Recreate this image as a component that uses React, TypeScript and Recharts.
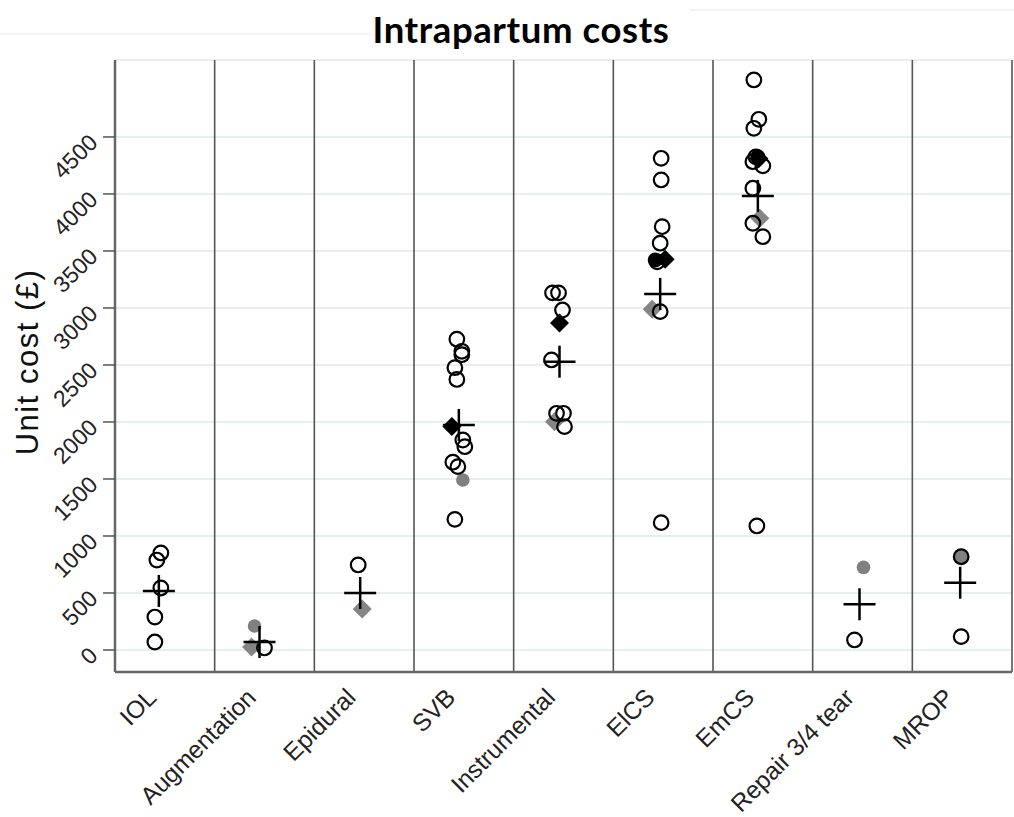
import React from 'react';
import { ScatterChart, Scatter, XAxis, YAxis, CartesianGrid, ReferenceLine } from 'recharts';

// categories (one column each, x = column index + position inside it)
const categories = ['IOL', 'Augmentation', 'Epidural', 'SVB', 'Instrumental', 'ElCS', 'EmCS', 'Repair 3/4 tear', 'MROP'];
const categoryTicks = [0.5, 1.5, 2.5, 3.5, 4.5, 5.5, 6.5, 7.5, 8.5];
const separators = [1, 2, 3, 4, 5, 6, 7, 8, 9];
const yTicks = [0, 500, 1000, 1500, 2000, 2500, 3000, 3500, 4000, 4500];

// [x, unit cost]
const openCircles: [number, number][] = [
  [0.46, 851], [0.42, 789], [0.46, 544], [0.4, 289], [0.4, 70],
  [1.5, 18],
  [2.44, 746],
  [3.43, 2726], [3.48, 2620], [3.48, 2590], [3.41, 2476], [3.43, 2373], [3.49, 1842], [3.51, 1783], [3.39, 1647], [3.44, 1608], [3.41, 1146],
  [4.39, 3132], [4.45, 3132], [4.49, 2982], [4.38, 2544], [4.43, 2076], [4.5, 2076], [4.51, 1959],
  [5.48, 4313], [5.48, 4123], [5.49, 3713], [5.47, 3568], [5.44, 3404], [5.47, 2968], [5.48, 1117],
  [6.41, 5000], [6.46, 4655], [6.41, 4576], [6.43, 4325], [6.4, 4283], [6.5, 4246], [6.4, 4050], [6.4, 3743], [6.5, 3625], [6.44, 1088],
  [7.42, 88],
  [8.49, 818], [8.49, 117],
];
const grayCircles: [number, number][] = [[1.4, 211], [3.49, 1491], [7.51, 725], [8.49, 818]];
const grayDiamonds: [number, number][] = [[1.37, 26], [2.48, 360], [4.41, 2003], [5.39, 2989], [6.47, 3787]];
const blackDiamonds: [number, number][] = [[3.38, 1960], [4.46, 2868], [5.52, 3427], [6.46, 4310]];
const blackCircles: [number, number][] = [[5.42, 3421], [6.45, 4327]];
const means: [number, number][] = [
  [0.44, 518], [1.45, 70], [2.46, 500], [3.45, 1974], [4.46, 2529], [5.47, 3123], [6.45, 3983], [7.47, 401], [8.48, 590],
];

const toRows = (pts: [number, number][]) => pts.map(([x, y]) => ({ x, y }));

const OpenCircle = ({ cx, cy }: any) => (
  <circle cx={cx} cy={cy} r={7.3} fill="none" stroke="#000" strokeWidth={2.2} />
);
const GrayCircle = ({ cx, cy }: any) => <circle cx={cx} cy={cy} r={6.8} fill="#808080" />;
const Diamond = (color: string) => ({ cx, cy }: any) => (
  <polygon points={`${cx},${cy - 9.5} ${cx + 9.5},${cy} ${cx},${cy + 9.5} ${cx - 9.5},${cy}`} fill={color} />
);
const BlackCircle = ({ cx, cy }: any) => <circle cx={cx} cy={cy} r={7.5} fill="#000" />;
const Cross = ({ cx, cy }: any) => (
  <g stroke="#000" strokeWidth={2.5}>
    <line x1={cx - 16} y1={cy} x2={cx + 16} y2={cy} />
    <line x1={cx} y1={cy - 16} x2={cx} y2={cy + 16} />
  </g>
);

const YTick = ({ x, y, payload }: any) => (
  <g transform={`translate(${x},${y + 7}) rotate(-45)`}>
    <text textAnchor="end" fontSize={23} fontFamily="Liberation Sans, Arial, sans-serif" fill="#222">
      {payload.value}
    </text>
  </g>
);

const XTick = ({ x, y, payload }: any) => (
  <g transform={`translate(${x - 7},${y + 27}) rotate(-45)`}>
    <text textAnchor="end" fontSize={24.5} fontFamily="Liberation Sans, Arial, sans-serif" fill="#222">
      {categories[Math.floor(payload.value)]}
    </text>
  </g>
);

export default function App() {
  return (
    <div style={{ position: 'absolute', left: 0, top: 0, width: 1014, height: 817, background: '#fff' }}>
      <div style={{ position: 'absolute', left: 0, top: 33, width: 370, height: 2, background: '#f0f4f4' }} />
      <div style={{ position: 'absolute', left: 690, top: 9, width: 324, height: 2, background: '#f0f4f4' }} />
      <div
        style={{
          position: 'absolute', left: 271, top: 7, width: 500, textAlign: 'center',
          fontFamily: 'Lato, sans-serif', fontWeight: 700, fontSize: 36.5, letterSpacing: 0.6, color: '#000',
        }}
      >
        Intrapartum costs
      </div>
      <div
        style={{
          position: 'absolute', left: 28, top: 362, transform: 'translate(-50%, -50%) rotate(-90deg)',
          whiteSpace: 'nowrap', fontFamily: 'Liberation Sans, Arial, sans-serif', fontSize: 31, letterSpacing: 1.5, color: '#111',
        }}
      >
        Unit cost (£)
      </div>
      <ScatterChart width={1014} height={817} margin={{ top: 60, right: 2, bottom: 0, left: 0 }}>
        <CartesianGrid vertical={false} stroke="#e6efef" strokeWidth={2} />
        <XAxis
          type="number"
          dataKey="x"
          domain={[0, 9]}
          ticks={categoryTicks}
          interval={0}
          height={145}
          tickLine={false}
          tickSize={0}
          tickMargin={0}
          axisLine={{ stroke: '#666', strokeWidth: 2.5 }}
          tick={<XTick />}
        />
        <YAxis
          type="number"
          dataKey="y"
          domain={[-193, 5175]}
          ticks={yTicks}
          width={115}
          tickSize={12}
          tickMargin={4}
          tickLine={{ stroke: '#555', strokeWidth: 1.5 }}
          axisLine={{ stroke: '#666', strokeWidth: 2.5 }}
          tick={<YTick />}
        />
        {separators.map((s) => (
          <ReferenceLine key={s} x={s} stroke="#555" strokeWidth={1.6} />
        ))}
        <Scatter data={toRows(grayCircles)} shape={GrayCircle} isAnimationActive={false} />
        <Scatter data={toRows(grayDiamonds)} shape={Diamond('#858585')} isAnimationActive={false} />
        <Scatter data={toRows(blackDiamonds)} shape={Diamond('#000')} isAnimationActive={false} />
        <Scatter data={toRows(blackCircles)} shape={BlackCircle} isAnimationActive={false} />
        <Scatter data={toRows(openCircles)} shape={OpenCircle} isAnimationActive={false} />
        <Scatter data={toRows(means)} shape={Cross} isAnimationActive={false} />
      </ScatterChart>
    </div>
  );
}
